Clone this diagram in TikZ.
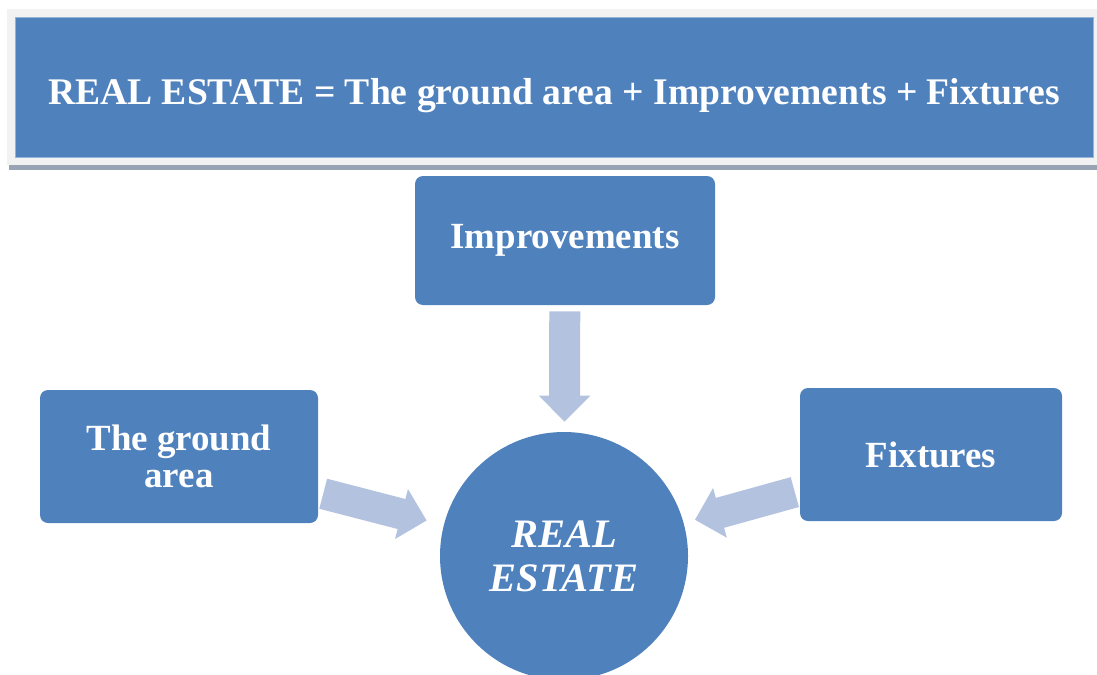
\documentclass[tikz,border=0pt]{standalone}
\usepackage{fontspec}
\setmainfont{Liberation Serif}
\usetikzlibrary{arrows.meta}
\definecolor{boxblue}{HTML}{4F81BD}
\definecolor{arrowblue}{HTML}{B3C3DF}
\definecolor{framegray}{HTML}{F2F2F2}
\definecolor{shadowgray}{HTML}{98A4B4}
\begin{document}
\begin{tikzpicture}[
        box/.style={fill=boxblue, rounded corners=0.16cm, text=white, align=center,
            font=\fontsize{21}{21}\selectfont\bfseries},
        bigarrow/.style={draw=arrowblue, line width=0.62cm,
            -{Triangle[width=1cm,length=0.52cm]}},
    ]
        \useasboundingbox (0,0) rectangle (21.94,-13.48);
        \fill[framegray]  (0.14,-0.18) rectangle (21.94,-3.30);
        \fill[shadowgray] (0.18,-3.30) rectangle (21.94,-3.40);
        \node[box, rounded corners=0pt, draw=boxblue!60!white, minimum width=21.56cm, minimum height=2.8cm,
            text height=0.7cm, text depth=0pt, font=\fontsize{21.4}{21.4}\selectfont\bfseries] (title) at (11.08,-1.74) {REAL ESTATE = The ground area + Improvements + Fixtures};
        \node[box, minimum width=6cm, minimum height=2.58cm] (impr) at (11.3,-4.81) {Improvements};
        \node[box, minimum width=5.56cm, minimum height=2.66cm] (ground) at (3.58,-9.13) {The ground\\area};
        \node[box, minimum width=5.24cm, minimum height=2.66cm] (fix) at (18.62,-9.09) {Fixtures};
        \node[box, circle, minimum size=4.96cm, font=\fontsize{23}{25}\selectfont\bfseries\itshape] (re) at (11.28,-11.12) {REAL\\ESTATE};
        \draw[bigarrow, shorten <=0.12cm, shorten >=0.2cm]  (impr)   -- (re);
        \draw[bigarrow, shorten <=0.1cm,  shorten >=0.35cm] (ground) -- (re);
        \draw[bigarrow, shorten <=0.1cm,  shorten >=0.23cm] (fix)    -- (re);
    \end{tikzpicture}
\end{document}
